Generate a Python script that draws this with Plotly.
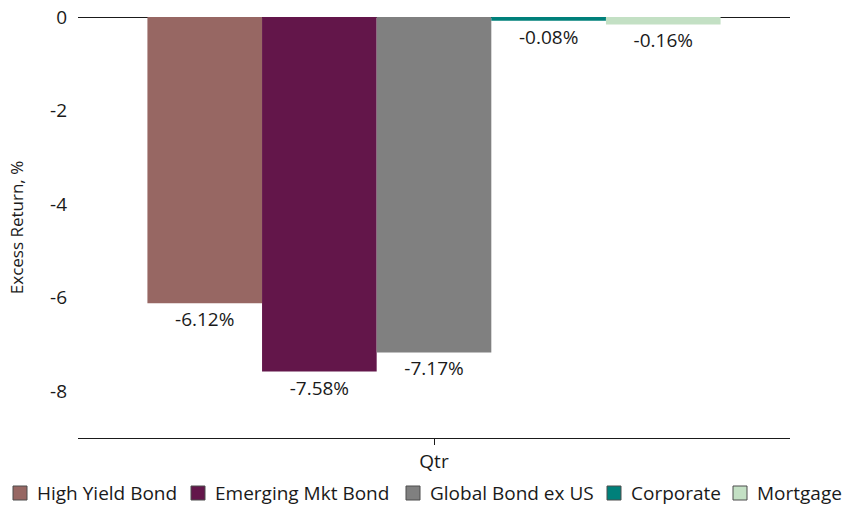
import plotly.graph_objects as go

# Quarterly excess returns by sector
period = ["Qtr"]
sectors = ["High Yield Bond", "Emerging Mkt Bond", "Global Bond ex US", "Corporate", "Mortgage"]
excess_returns = [-6.12, -7.58, -7.17, -0.08, -0.16]
colors = ["#976763", "#63164A", "#808080", "#00807A", "#C3E0C4"]
y_ticks = [0, -2, -4, -6, -8]

FONT = "'Open Sans', sans-serif"
TEXT = "#1a1a1a"

# Canvas and plot-area geometry (pixels)
W, H = 846, 507
ML, MR, MT, MB = 78, 56, 17, 69
PW, PH = W - ML - MR, H - MT - MB

# Legend row layout: left edge of each swatch, in pixels
legend_swatch_px = [13, 191, 406, 607, 733]
legend_center_px = 493
swatch = 14


def px_x(px):
    return (px - ML) / PW


def px_y(py):
    return (H - MB - py) / PH


fig = go.Figure()
for name, val, col in zip(sectors, excess_returns, colors):
    fig.add_trace(go.Bar(
        x=period,
        y=[val],
        name=name,
        marker=dict(color=col, line=dict(width=0)),
        text=[f"{val:.2f}%"],
        textposition="outside",
        textfont=dict(size=19, color=TEXT, family=FONT),
        cliponaxis=False,
        showlegend=False,
    ))

# Custom single-row legend
shapes = []
annotations = []
for name, col, sx in zip(sectors, colors, legend_swatch_px):
    shapes.append(dict(
        type="rect", xref="paper", yref="paper",
        x0=px_x(sx), x1=px_x(sx + swatch),
        y0=px_y(legend_center_px + swatch / 2), y1=px_y(legend_center_px - swatch / 2),
        fillcolor=col, line=dict(color="#4d4d4d", width=1),
    ))
    annotations.append(dict(
        text=name, xref="paper", yref="paper",
        x=px_x(sx + swatch + 8), y=px_y(legend_center_px),
        xanchor="left", yanchor="middle", showarrow=False,
        font=dict(size=19, family=FONT, color=TEXT),
    ))

fig.update_layout(
    width=W,
    height=H,
    barmode="group",
    bargap=0.195,
    bargroupgap=0,
    plot_bgcolor="white",
    paper_bgcolor="white",
    margin=dict(l=ML, r=MR, t=MT, b=MB, autoexpand=False),
    font=dict(family=FONT, size=19, color=TEXT),
    showlegend=False,
    shapes=shapes,
    annotations=annotations,
)

fig.update_xaxes(
    showline=True, linecolor=TEXT, linewidth=1,
    ticks="outside", ticklen=6, tickcolor=TEXT,
    tickfont=dict(size=19, family=FONT, color=TEXT),
    showgrid=False,
)
fig.update_yaxes(
    range=[-9, 0],
    tickvals=y_ticks,
    ticktext=[str(v) for v in y_ticks],
    showgrid=False,
    showline=False,
    zeroline=True, zerolinecolor=TEXT, zerolinewidth=1,
    ticks="", ticklabelstandoff=10,
    tickfont=dict(size=19, family=FONT, color=TEXT),
    title=dict(text="Excess Return, %", font=dict(size=17, family=FONT, color=TEXT), standoff=22),
)

fig.write_html("out.html")
